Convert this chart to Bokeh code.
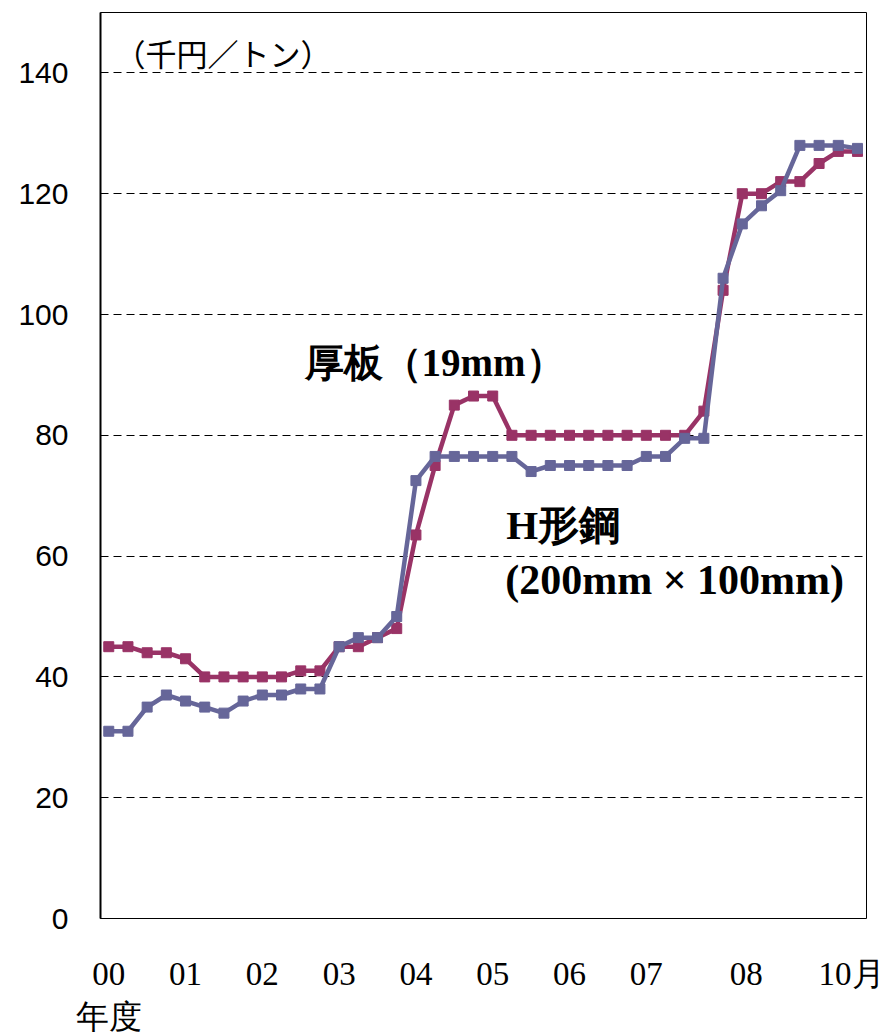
from bokeh.plotting import figure
from bokeh.models import FixedTicker, Label, Range1d
from bokeh.embed import file_html
from bokeh.resources import INLINE

# quarterly observations, FY2000 -> Oct 2010
quarters = list(range(40))
plate_19mm = [45, 45, 44, 44, 43, 40, 40, 40, 40, 40,
              41, 41, 45, 45, 46.5, 48, 63.5, 75, 85, 86.5,
              86.5, 80, 80, 80, 80, 80, 80, 80, 80, 80,
              80, 84, 104, 120, 120, 122, 122, 125, 127, 127]
h_beam = [31, 31, 35, 37, 36, 35, 34, 36, 37, 37,
          38, 38, 45, 46.5, 46.5, 50, 72.5, 76.5, 76.5, 76.5,
          76.5, 76.5, 74, 75, 75, 75, 75, 75, 76.5, 76.5,
          79.5, 79.5, 106, 115, 118, 120.5, 128, 128, 128, 127.5]

x_tick_labels = ["00\n年度", "01", "02", "03", "04", "05", "06", "07", "08", "10月"]
x_tick_pos = [0, 4, 8, 12, 16, 20, 24, 28, 33.2, 38.7]
y_ticks = [0, 20, 40, 60, 80, 100, 120, 140]

RED = "#993366"
BLUE = "#666699"

p = figure(frame_width=766, frame_height=906, output_backend="svg",
           toolbar_location=None,
           x_range=Range1d(-0.43, 39.47), y_range=Range1d(0, 150),
           min_border_left=100, min_border_right=18,
           min_border_top=12, min_border_bottom=109)
p.background_fill_color = "white"
p.border_fill_color = "white"
p.outline_line_color = "black"
p.outline_line_width = 1

p.xgrid.visible = False
p.ygrid.ticker = FixedTicker(ticks=y_ticks)
p.ygrid.grid_line_color = "black"
p.ygrid.grid_line_dash = "8 5"
p.ygrid.grid_line_width = 1

ya = p.yaxis[0]
ya.ticker = FixedTicker(ticks=y_ticks)
ya.axis_line_color = "black"
ya.axis_line_width = 2
ya.major_tick_in = 7
ya.major_tick_out = 0
ya.major_tick_line_color = "black"
ya.minor_tick_line_color = None
ya.major_label_text_font = "Liberation Sans"
ya.major_label_text_font_size = "30px"
ya.major_label_text_color = "black"
ya.major_label_standoff = 32

xa = p.xaxis[0]
xa.ticker = FixedTicker(ticks=x_tick_pos)
xa.major_label_overrides = {pos: lab for pos, lab in zip(x_tick_pos, x_tick_labels)}
xa.axis_line_color = None
xa.major_tick_line_color = None
xa.minor_tick_line_color = None
xa.major_label_text_font = "Liberation Serif"
xa.major_label_text_font_size = "33px"
xa.major_label_text_color = "black"
xa.major_label_standoff = 31

p.line(quarters, plate_19mm, line_color=RED, line_width=4.5)
p.scatter(quarters, plate_19mm, marker="square", size=10,
          fill_color=RED, line_color=RED)
p.line(quarters, h_beam, line_color=BLUE, line_width=4.5)
p.scatter(quarters, h_beam, marker="square", size=10,
          fill_color=BLUE, line_color=BLUE)

p.add_layout(Label(x=0.3, y=143.4, text="（千円／トン）",
                   text_font="Noto Sans CJK JP", text_font_size="31px",
                   text_baseline="middle", text_align="left", text_color="black"))
p.add_layout(Label(x=10.2, y=92.1, text="厚板（19mm）",
                   text_font="Liberation Serif", text_font_style="bold",
                   text_font_size="39px",
                   text_baseline="middle", text_align="left", text_color="black"))
p.add_layout(Label(x=20.7, y=65.1, text="H形鋼",
                   text_font="Liberation Serif", text_font_style="bold",
                   text_font_size="41px",
                   text_baseline="middle", text_align="left", text_color="black"))
p.add_layout(Label(x=20.65, y=56.0, text="(200mm × 100mm)",
                   text_font="Liberation Serif", text_font_style="bold",
                   text_font_size="42px",
                   text_baseline="middle", text_align="left", text_color="black"))

open("out.html", "w").write(file_html(p, INLINE))
